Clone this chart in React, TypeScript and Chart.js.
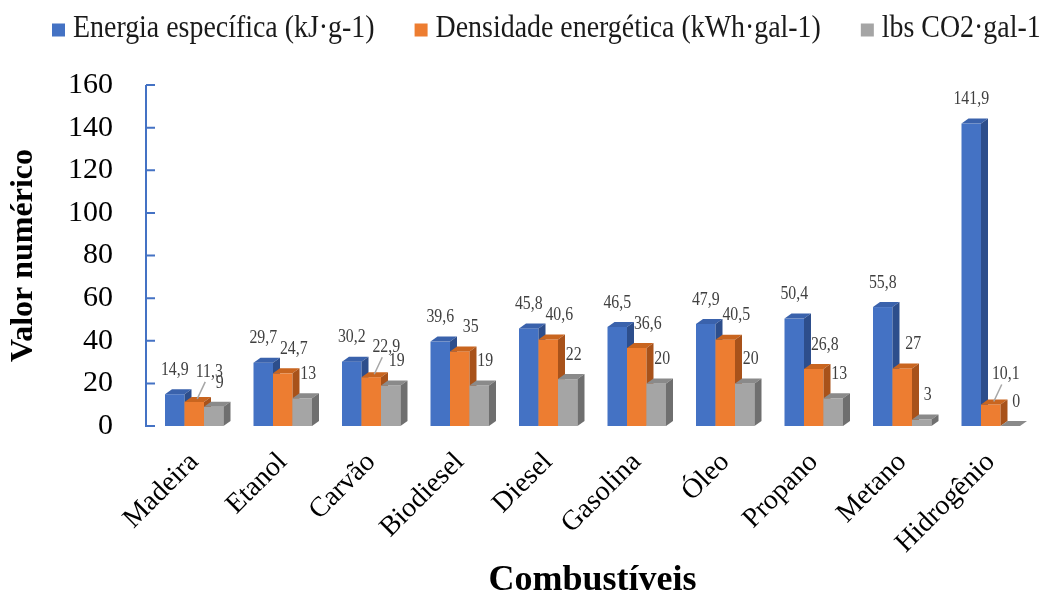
import { useEffect, useRef } from 'react';
import { Chart, registerables } from 'chart.js';

Chart.register(...registerables);

// Combustíveis e seus valores
const categories = ['Madeira', 'Etanol', 'Carvão', 'Biodiesel', 'Diesel', 'Gasolina', 'Óleo', 'Propano', 'Metano', 'Hidrogênio'];
const energiaEspecifica = [14.9, 29.7, 30.2, 39.6, 45.8, 46.5, 47.9, 50.4, 55.8, 141.9];
const densidadeEnergetica = [11.3, 24.7, 22.9, 35, 40.6, 36.6, 40.5, 26.8, 27, 10.1];
const lbsCO2 = [9, 13, 19, 19, 22, 20, 20, 13, 3, 0];
const seriesNames = ['Energia específica (kJ·g-1)', 'Densidade energética (kWh·gal-1)', 'lbs CO2·gal-1'];
const yMin = 0;
const yMax = 160;
const yStep = 20;

// Labels that sit higher, joined to their bar by a short leader line: [category, series]
const calloutLabels: Array<[number, number]> = [[0, 1], [2, 1], [9, 1]];

// Face colours for the pseudo-3D columns
const faces = [
  { front: '#4472C4', top: '#3A62AC', side: '#2D4E8C' },
  { front: '#ED7D31', top: '#C9651F', side: '#A8521A' },
  { front: '#A5A5A5', top: '#8A8A8A', side: '#6F6F6F' },
];
const DEPTH_X = 7;
const DEPTH_Y = 5;
const SERIF = '"Liberation Serif", "Times New Roman", serif';

const fmt = (v: number) => String(v).replace('.', ',');

// Draws text squeezed horizontally around its anchor point
function narrowText(ctx: CanvasRenderingContext2D, text: string, x: number, y: number, sx: number) {
  ctx.save();
  ctx.translate(x, y);
  ctx.scale(sx, 1);
  ctx.fillText(text, 0, 0);
  ctx.restore();
}

const bars3d = {
  id: 'bars3d',
  beforeDatasetsDraw(chart: any) {
    const ctx = chart.ctx;
    ctx.save();
    for (let i = 0; i < categories.length; i++) {
      chart.data.datasets.forEach((_: any, d: number) => {
        const el = chart.getDatasetMeta(d).data[i];
        const { x, y, base, width } = el.getProps(['x', 'y', 'base', 'width'], true);
        const l = x - width / 2;
        const r = x + width / 2;
        const f = faces[d];
        ctx.fillStyle = f.front;
        ctx.fillRect(l, y, width, base - y);
        ctx.fillStyle = f.top;
        ctx.beginPath();
        ctx.moveTo(l, y);
        ctx.lineTo(l + DEPTH_X, y - DEPTH_Y);
        ctx.lineTo(r + DEPTH_X, y - DEPTH_Y);
        ctx.lineTo(r, y);
        ctx.closePath();
        ctx.fill();
        ctx.fillStyle = f.side;
        ctx.beginPath();
        ctx.moveTo(r, y);
        ctx.lineTo(r + DEPTH_X, y - DEPTH_Y);
        ctx.lineTo(r + DEPTH_X, base - DEPTH_Y);
        ctx.lineTo(r, base);
        ctx.closePath();
        ctx.fill();
      });
    }
    ctx.restore();
    return false;
  },
};

const decorations = {
  id: 'decorations',
  afterDraw(chart: any) {
    const ctx = chart.ctx;
    const yScale = chart.scales.y;
    const area = chart.chartArea;
    ctx.save();

    // value axis line with inward tick marks
    const ax = area.left - 4;
    ctx.strokeStyle = '#4472C4';
    ctx.lineWidth = 2;
    ctx.beginPath();
    ctx.moveTo(ax, yScale.getPixelForValue(yMax));
    ctx.lineTo(ax, yScale.getPixelForValue(yMin) + 1);
    for (let v = yMin; v <= yMax; v += yStep) {
      const py = yScale.getPixelForValue(v);
      ctx.moveTo(ax, py);
      ctx.lineTo(ax + 9, py);
    }
    ctx.stroke();

    // data labels
    const xOff = [0, 11, 6];
    ctx.font = `18px ${SERIF}`;
    ctx.fillStyle = '#404040';
    ctx.textAlign = 'center';
    ctx.textBaseline = 'middle';
    chart.data.datasets.forEach((ds: any, d: number) => {
      chart.getDatasetMeta(d).data.forEach((el: any, i: number) => {
        const { x, y } = el.getProps(['x', 'y'], true);
        const callout = calloutLabels.some(([c, s]) => c === i && s === d);
        if (callout) {
          ctx.strokeStyle = '#A6A6A6';
          ctx.lineWidth = 1.5;
          ctx.beginPath();
          ctx.moveTo(x + 3, y - 3);
          ctx.lineTo(x + 11, y - 20);
          ctx.stroke();
          narrowText(ctx, fmt(ds.data[i]), x + 15, y - 30, 0.88);
        } else {
          narrowText(ctx, fmt(ds.data[i]), x + xOff[d], y - 24, 0.88);
        }
      });
    });

    // legend
    const sx = 0.9;
    ctx.font = `31px ${SERIF}`;
    ctx.textAlign = 'left';
    ctx.textBaseline = 'middle';
    let lx = 52;
    const ly = 29;
    const box = 13;
    seriesNames.forEach((name, d) => {
      ctx.fillStyle = faces[d].front;
      ctx.fillRect(lx, ly - box / 2 + 1, box, box);
      ctx.fillStyle = '#1A1A1A';
      const tx = lx + 21;
      narrowText(ctx, name, tx, ly, sx);
      lx = tx + ctx.measureText(name).width * sx + 40;
    });
    ctx.restore();
  },
};

export default function App() {
  const canvasRef = useRef<HTMLCanvasElement | null>(null);

  useEffect(() => {
    if (!canvasRef.current) return;
    const chart = new Chart(canvasRef.current, {
      type: 'bar',
      data: {
        labels: categories,
        datasets: [
          { label: seriesNames[0], data: energiaEspecifica, backgroundColor: faces[0].front },
          { label: seriesNames[1], data: densidadeEnergetica, backgroundColor: faces[1].front },
          { label: seriesNames[2], data: lbsCO2, backgroundColor: faces[2].front },
        ],
      },
      options: {
        responsive: false,
        animation: false,
        devicePixelRatio: 1,
        layout: { padding: { top: 85, left: 5, right: 6, bottom: 0 } },
        datasets: { bar: { categoryPercentage: 0.661, barPercentage: 1 } },
        plugins: {
          legend: { display: false },
          tooltip: { enabled: false },
        },
        scales: {
          x: {
            grid: { display: false, drawTicks: false },
            border: { display: false },
            ticks: {
              autoSkip: false,
              maxRotation: 45,
              minRotation: 45,
              padding: 20,
              color: '#000',
              font: { family: SERIF, size: 28 },
            },
            title: {
              display: true,
              text: 'Combustíveis',
              color: '#000',
              padding: 0,
              font: { family: SERIF, size: 36, weight: 'bold' },
            },
            afterFit: (s: any) => {
              s.height = 176;
            },
          },
          y: {
            min: yMin,
            max: yMax,
            grid: { display: false, drawTicks: false },
            border: { display: false },
            ticks: {
              stepSize: yStep,
              padding: 37,
              color: '#000',
              font: { family: SERIF, size: 30 },
            },
            title: {
              display: true,
              text: 'Valor numérico',
              color: '#000',
              padding: 0,
              font: { family: SERIF, size: 32, weight: 'bold' },
            },
            afterFit: (s: any) => {
              s.width = 145;
            },
          },
        },
      },
      plugins: [bars3d, decorations],
    });
    return () => chart.destroy();
  }, []);

  return (
    <div style={{ position: 'fixed', left: 0, top: 0, width: 1041, height: 602, background: '#fff' }}>
      <canvas ref={canvasRef} width={1041} height={602} />
    </div>
  );
}
